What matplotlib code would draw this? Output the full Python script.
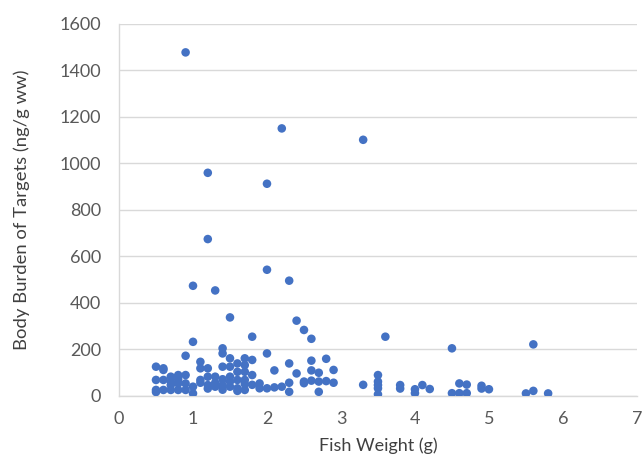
import matplotlib
matplotlib.use("Agg")
import matplotlib.pyplot as plt

# Fish weight (g) and body burden of target compounds (ng/g ww), one entry per fish
fish_weight = [
    0.5, 0.5, 0.5, 0.5,
    0.6, 0.6, 0.6, 0.6,
    0.7, 0.7, 0.7, 0.7,
    0.8, 0.8, 0.8, 0.8,
    0.9, 0.9, 0.9, 0.9, 0.9,
    1.0, 1.0, 1.0, 1.0,
    1.1, 1.1, 1.1, 1.1,
    1.2, 1.2, 1.2, 1.2, 1.2, 1.2,
    1.3, 1.3, 1.3, 1.3,
    1.4, 1.4, 1.4, 1.4, 1.4, 1.4,
    1.5, 1.5, 1.5, 1.5, 1.5, 1.5,
    1.6, 1.6, 1.6, 1.6, 1.6,
    1.7, 1.7, 1.7, 1.7, 1.7, 1.7,
    1.8, 1.8, 1.8, 1.8,
    1.9, 1.9,
    2.0, 2.0, 2.0, 2.0,
    2.1, 2.1,
    2.2, 2.2,
    2.3, 2.3, 2.3, 2.3,
    2.4, 2.4,
    2.5, 2.5, 2.5,
    2.6, 2.6, 2.6, 2.6,
    2.7, 2.7, 2.7,
    2.8, 2.8,
    2.9, 2.9,
    3.3, 3.3,
    3.5, 3.5, 3.5, 3.5, 3.5,
    3.6,
    3.8, 3.8,
    4.0, 4.0,
    4.1,
    4.2,
    4.5, 4.5,
    4.6, 4.6,
    4.7, 4.7,
    4.9, 4.9,
    5.0,
    5.5,
    5.6, 5.6,
    5.8,
]
body_burden = [
    124, 67, 24, 15,
    117, 67, 24, 110,
    81, 45, 24, 60,
    88, 52, 24, 70,
    1476, 171, 88, 52, 24,
    472, 231, 38, 9,
    145, 117, 67, 55,
    958, 673, 117, 81, 45, 30,
    452, 81, 38, 55,
    203, 181, 124, 70, 45, 25,
    336, 160, 124, 81, 38, 60,
    138, 102, 67, 31, 20,
    160, 131, 102, 67, 24, 50,
    253, 153, 88, 46,
    52, 31,
    911, 541, 181, 31,
    108, 35,
    1149, 38,
    494, 138, 55, 16,
    322, 95,
    282, 60, 53,
    244, 150, 108, 64,
    98, 60, 16,
    158, 62,
    110, 55,
    1100, 46,
    88, 60, 31, 5, 45,
    253,
    45, 30,
    27, 10,
    45,
    28,
    203, 10,
    52, 10,
    47, 10,
    42, 30,
    27,
    9,
    220, 20,
    9,
]

x_ticks = [0, 1, 2, 3, 4, 5, 6, 7]
y_ticks = [0, 200, 400, 600, 800, 1000, 1200, 1400, 1600]

plt.rcParams["font.family"] = ["Lato", "DejaVu Sans"]

fig = plt.figure(figsize=(6.44, 4.62), dpi=100)
ax = fig.add_axes([0.1848, 0.1439, 0.989 - 0.1848, 0.949 - 0.1439])

ax.scatter(fish_weight, body_burden, s=38, color="#4472C4", edgecolors="none", zorder=3)

ax.set_xlim(0, 7)
ax.set_ylim(0, 1600)
ax.set_xticks(x_ticks)
ax.set_yticks(y_ticks)

ax.grid(axis="y", color="#D9D9D9", linewidth=1.0, zorder=0)
ax.set_axisbelow(True)

for side in ("top", "right"):
    ax.spines[side].set_visible(False)
for side in ("left", "bottom"):
    ax.spines[side].set_color("#D9D9D9")
    ax.spines[side].set_linewidth(1.0)

ax.tick_params(axis="both", length=0, labelsize=13, labelcolor="#595959")
ax.tick_params(axis="y", pad=13)
ax.tick_params(axis="x", pad=11)

ax.set_xlabel("Fish Weight (g)", fontsize=13, color="#404040", labelpad=8)
ax.set_ylabel("Body Burden of Targets (ng/g ww)", fontsize=13.3, color="#404040", labelpad=21)

fig.savefig("out.png", dpi=100)
